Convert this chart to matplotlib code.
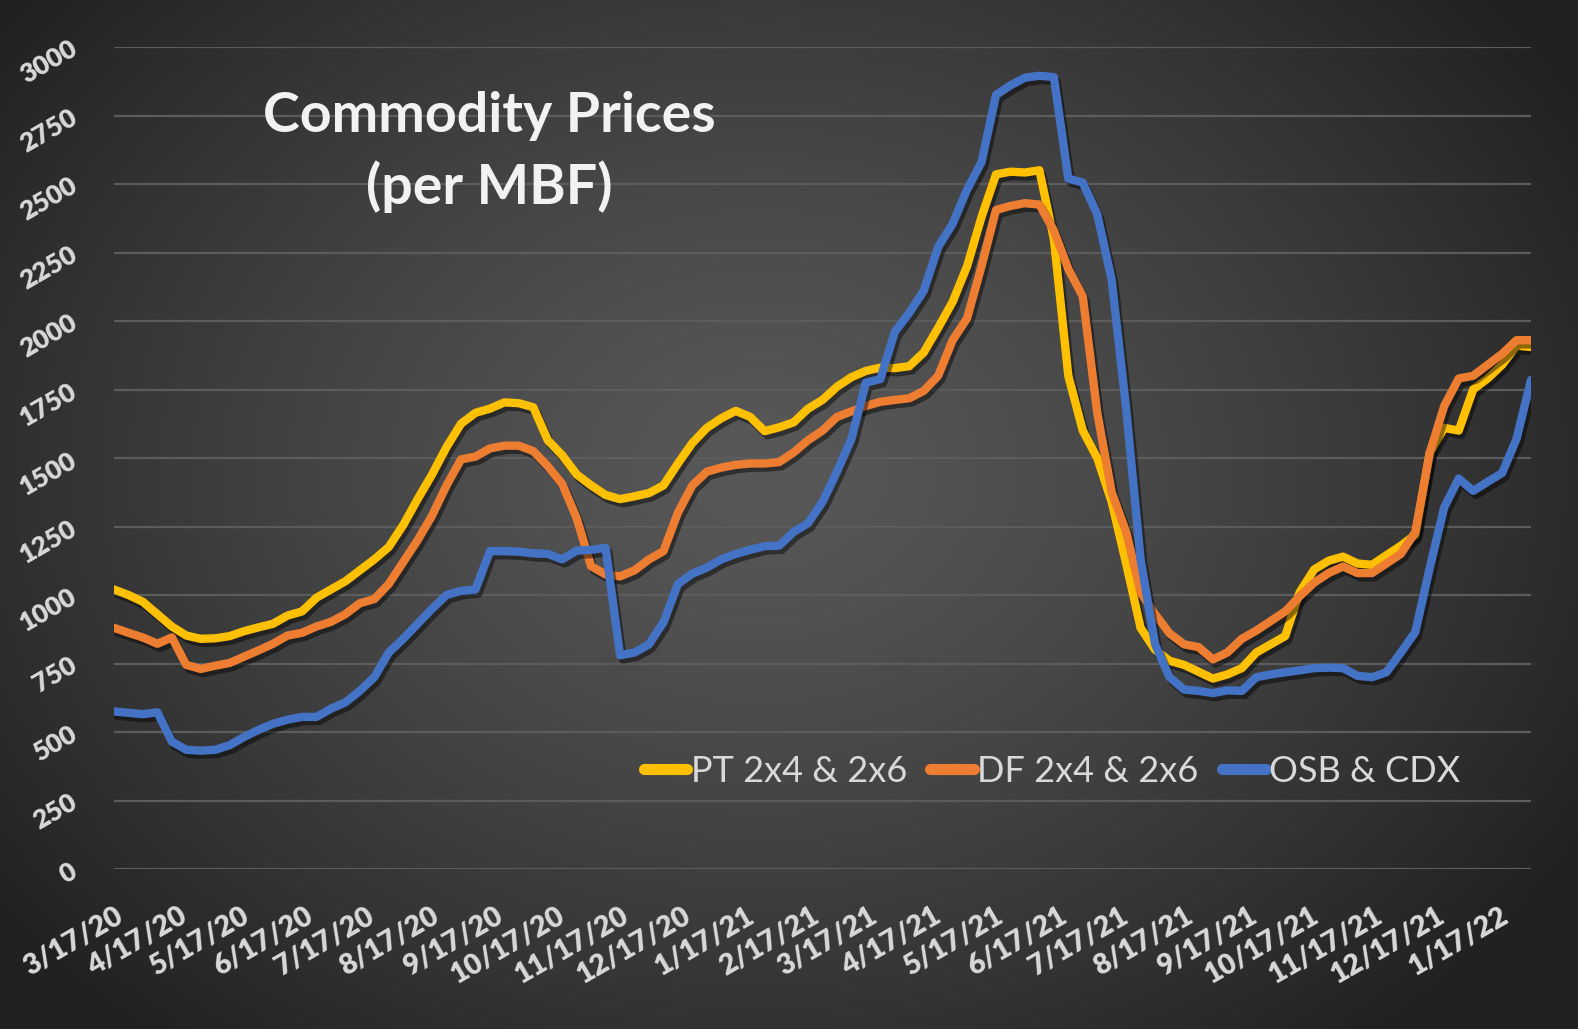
import numpy as np
import pandas as pd
import matplotlib
matplotlib.use("Agg")
import matplotlib.pyplot as plt
import matplotlib.patheffects as pe

# weekly readings, first week 3/17/20
week_start = "2020-03-17"
n_weeks = 99

pt_2x4 = [1020, 1000, 975, 930, 885, 852, 840, 842, 850, 868,
          882, 895, 925, 940, 990, 1020, 1050, 1090, 1130, 1175,
          1255, 1350, 1440, 1540, 1625, 1665, 1680, 1703, 1700, 1685,
          1565, 1510, 1440, 1400, 1365, 1350, 1360, 1372, 1400, 1480,
          1555, 1610, 1645, 1672, 1650, 1598, 1612, 1630, 1680, 1712,
          1760, 1795, 1818, 1830, 1828, 1835, 1885, 1975, 2070, 2200,
          2380, 2535, 2545, 2542, 2550, 2300, 1800, 1600, 1500, 1340,
          1115, 880, 800, 760, 745, 720, 695, 710, 733, 790,
          820, 850, 1010, 1093, 1125, 1140, 1115, 1110, 1145, 1180,
          1220, 1520, 1610, 1600, 1750, 1790, 1840, 1910, 1905]

df_2x4 = [880, 862, 845, 822, 845, 745, 730, 742, 752, 775,
          798, 822, 852, 862, 885, 902, 930, 970, 985, 1040,
          1120, 1200, 1290, 1400, 1495, 1505, 1535, 1545, 1545, 1525,
          1470, 1405, 1280, 1105, 1075, 1068, 1090, 1130, 1160, 1300,
          1400, 1450, 1465, 1475, 1480, 1480, 1485, 1520, 1565, 1600,
          1650, 1670, 1690, 1705, 1712, 1718, 1745, 1800, 1930, 2010,
          2200, 2405, 2420, 2430, 2425, 2330, 2190, 2090, 1665, 1375,
          1230, 1010, 930, 860, 820, 810, 765, 790, 840, 870,
          905, 940, 995, 1045, 1080, 1104, 1080, 1080, 1115, 1150,
          1230, 1520, 1690, 1790, 1800, 1840, 1880, 1930, 1930]

osb_cdx = [575, 570, 565, 572, 465, 435, 432, 435, 452, 482,
           508, 530, 545, 555, 555, 585, 608, 650, 700, 790,
           840, 895, 950, 1000, 1015, 1020, 1160, 1160, 1158, 1152,
           1150, 1130, 1162, 1165, 1172, 780, 790, 820, 900, 1040,
           1078, 1100, 1130, 1150, 1165, 1178, 1180, 1230, 1262, 1340,
           1450, 1570, 1775, 1788, 1960, 2030, 2110, 2270, 2355, 2480,
           2580, 2825, 2860, 2888, 2895, 2890, 2520, 2505, 2390, 2150,
           1680, 1130, 820, 700, 655, 650, 642, 652, 650, 700,
           710, 718, 725, 733, 735, 733, 705, 700, 718, 790,
           865, 1100, 1320, 1425, 1380, 1413, 1445, 1570, 1785]

series_names = ["PT 2x4 & 2x6", "DF 2x4 & 2x6", "OSB & CDX"]
series_colors = ["#FFC000", "#ED7D31", "#4472C4"]
y_ticks = list(range(0, 3001, 250))

dates = pd.date_range(week_start, periods=n_weeks, freq="7D")
tick_dates = [pd.Timestamp(week_start) + pd.DateOffset(months=i) for i in range(23)]
tick_labels = [f"{d.month}/{d.day}/{d.year % 100}" for d in tick_dates]

W, H = 1578, 1029
fig = plt.figure(figsize=(W / 100, H / 100), dpi=100)

# radial grey background
bg = fig.add_axes([0, 0, 1, 1], zorder=-10)
yy, xx = np.mgrid[0:H, 0:W]
r = np.sqrt(((xx - 760) / 900.0) ** 2 + ((yy - 470) / 700.0) ** 2)
shade = np.clip(0.345 - 0.2 * r ** 1.3, 0.13, 0.35)
bg.imshow(np.dstack([shade] * 3), aspect="auto", extent=[0, 1, 0, 1])
bg.axis("off")

ax = fig.add_axes([114 / W, 1 - 869 / H, (1531 - 114) / W, (869 - 47) / H])
ax.set_facecolor("none")

shadow = [pe.SimpleLineShadow(offset=(2, -3), shadow_color="black", alpha=0.45), pe.Normal()]
for vals, name, col in zip([pt_2x4, df_2x4, osb_cdx], series_names, series_colors):
    ax.plot(dates, vals, color=col, lw=6, label=name,
            solid_joinstyle="round", solid_capstyle="round", path_effects=shadow)

ax.set_ylim(0, 3000)
ax.set_xlim(dates[0], dates[-1])
ax.set_yticks(y_ticks)
ax.set_yticklabels([str(v) for v in y_ticks])
ax.set_xticks(tick_dates)
ax.set_xticklabels(tick_labels)
ax.grid(axis="y", color="#5c5c5c", lw=1.6)
ax.set_axisbelow(True)
for s in ax.spines.values():
    s.set_visible(False)
ax.tick_params(axis="both", length=0)
ax.tick_params(axis="y", pad=28)
ax.tick_params(axis="x", pad=24)
for lab in ax.get_yticklabels():
    lab.set(rotation=30, ha="right", va="center", rotation_mode="anchor",
            family="Lato", weight="heavy", fontsize=19, color="#d9d9d9")
for lab in ax.get_xticklabels():
    lab.set(rotation=30, ha="right", va="top", rotation_mode="anchor",
            family="Lato", weight="heavy", fontsize=20.5, color="#d9d9d9")

fig.text(489 / W, 1 - 116 / H, "Commodity Prices", ha="center", va="center",
         family="Lato", weight="bold", fontsize=40, color="#f2f2f2")
fig.text(489 / W, 1 - 187 / H, "(per MBF)", ha="center", va="center",
         family="Lato", weight="bold", fontsize=40, color="#f2f2f2")

leg = ax.legend(loc="center", bbox_to_anchor=(1052 / W, 1 - 771 / H),
                bbox_transform=fig.transFigure, ncol=3, frameon=False,
                handlelength=1.2, handletextpad=0.1, columnspacing=0.65,
                prop={"family": "Lato", "size": 26})
for t in leg.get_texts():
    t.set_color("#d9d9d9")
for h in leg.get_lines():
    h.set_linewidth(8)
    h.set_path_effects([])

fig.savefig("out.png", dpi=100)
